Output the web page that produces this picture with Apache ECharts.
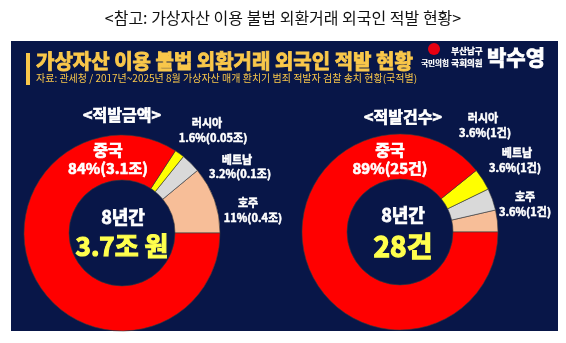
<!DOCTYPE html>
<html><head><meta charset="utf-8">
<script src="https://cdn.jsdelivr.net/npm/echarts@6/dist/echarts.min.js"></script>
<style>html,body{margin:0;padding:0;background:#fff}#c{width:566px;height:343px}</style>
</head><body><div id="c"></div>
<script>
// Data (order: counter-clockwise from 3 o'clock)
const countries = ['호주', '베트남', '러시아', '중국'];
const amountShare = [11, 3.2, 1.6, 84];            // % of detected amount
const amountLabel = ['0.4조', '0.1조', '0.05조', '3.1조'];
const countShare = [3.6, 3.6, 3.6, 89];            // % of detected cases
const countValue = [1, 1, 1, 25];                  // cases
const amountTotal = '3.7조 원';
const countTotal = '28건';
const sliceColors = ['#F7BE98', '#D9D9D9', '#FFFF00', '#FF0000'];

const FONT = '"Noto Sans CJK KR", "Noto Sans", sans-serif';
const NAVY = '#081648';

const chart = echarts.init(document.getElementById('c'));

function pieSeries(center, values) {
  return {
    type: 'pie',
    center: center,
    radius: [53, 98],
    startAngle: 0,
    clockwise: false,
    silent: true,
    label: { show: false },
    labelLine: { show: false },
    itemStyle: { borderColor: '#3a3a3a', borderWidth: 0.6 },
    data: countries.map((n, i) => ({ name: n, value: values[i], itemStyle: { color: sliceColors[i] } }))
  };
}

function txt(x, y, s, size, color, weight, align, sw) {
  const bold = weight === 'bold';
  return {
    type: 'text', x: x, y: y, z: 100,
    style: { text: s, fill: color, font: (weight || 'normal') + ' ' + size + 'px ' + FONT,
      textAlign: align || 'center', textVerticalAlign: 'middle',
      stroke: bold ? color : null, lineWidth: bold ? (sw != null ? sw : Math.max(0.5, size / 22)) : 0 }
  };
}

const W = '#FFFFFF';
const g = [
  { type: 'rect', z: 0, shape: { x: 11, y: 41, width: 547, height: 290 }, style: { fill: NAVY } },
  { type: 'rect', z: 1, shape: { x: 26, y: 53, width: 4, height: 32 }, style: { fill: '#F9C74A' } },
  txt(283, 18, '<참고: 가상자산 이용 불법 외환거래 외국인 적발 현황>', 16, '#111', 'normal'),
  txt(36, 61, '가상자산 이용 불법 외환거래 외국인 적발 현황', 20, '#F9C74A', 'bold', 'left'),
  txt(36, 78, '자료: 관세청 / 2017년~2025년 8월 가상자산 매개 환치기 범죄 적발자 검찰 송치 현황(국적별)', 10, '#F9C74A', 'normal', 'left'),
  { type: 'circle', z: 1, shape: { cx: 434, cy: 49, r: 6 }, style: { fill: '#E60012' } },
  txt(435, 63, '국민의힘', 7.5, W, 'bold', 'center', 0.2),
  txt(467, 51, '부산남구', 8.5, W, 'bold', 'center', 0.3),
  txt(467, 63, '국회의원', 8.5, W, 'bold', 'center', 0.3),
  txt(516, 57, '박수영', 21, W, 'bold'),

  txt(122, 115, '<적발금액>', 16, W, 'bold'),
  txt(108, 150, countries[3], 16, W, 'bold'),
  txt(108, 168, amountShare[3] + '%(' + amountLabel[3] + ')', 15, W, 'bold'),
  txt(207, 123, countries[2], 11, W, 'bold'),
  txt(213, 138, amountShare[2] + '%(' + amountLabel[2] + ')', 11, W, 'bold'),
  txt(237, 160, countries[1], 11, W, 'bold'),
  txt(240, 174, amountShare[1] + '%(' + amountLabel[1] + ')', 11, W, 'bold'),
  txt(248, 203, countries[0], 11, W, 'bold'),
  txt(253, 218, amountShare[0] + '%(' + amountLabel[0] + ')', 11, W, 'bold'),
  txt(123, 217, '8년간', 18, W, 'bold'),
  txt(122, 246, amountTotal, 26, '#FFFF4D', 'bold'),

  txt(403, 117, '<적발건수>', 16, W, 'bold'),
  txt(390, 150, countries[3], 16, W, 'bold'),
  txt(390, 168, countShare[3] + '%(' + countValue[3] + '건)', 15, W, 'bold'),
  txt(483, 118, countries[2], 11, W, 'bold'),
  txt(485, 133, countShare[2] + '%(' + countValue[2] + '건)', 11, W, 'bold'),
  txt(517, 153, countries[1], 11, W, 'bold'),
  txt(515, 168, countShare[1] + '%(' + countValue[1] + '건)', 11, W, 'bold'),
  txt(525, 197, countries[0], 11, W, 'bold'),
  txt(525, 212, countShare[0] + '%(' + countValue[0] + '건)', 11, W, 'bold'),
  txt(403, 215, '8년간', 18, W, 'bold'),
  txt(403, 246, countTotal, 28, '#FFFF4D', 'bold')
];

chart.setOption({
  backgroundColor: '#FFFFFF',
  animation: false,
  graphic: { elements: g },
  series: [pieSeries([122, 233], amountShare), pieSeries([400, 232], countShare)]
});
</script></body></html>
